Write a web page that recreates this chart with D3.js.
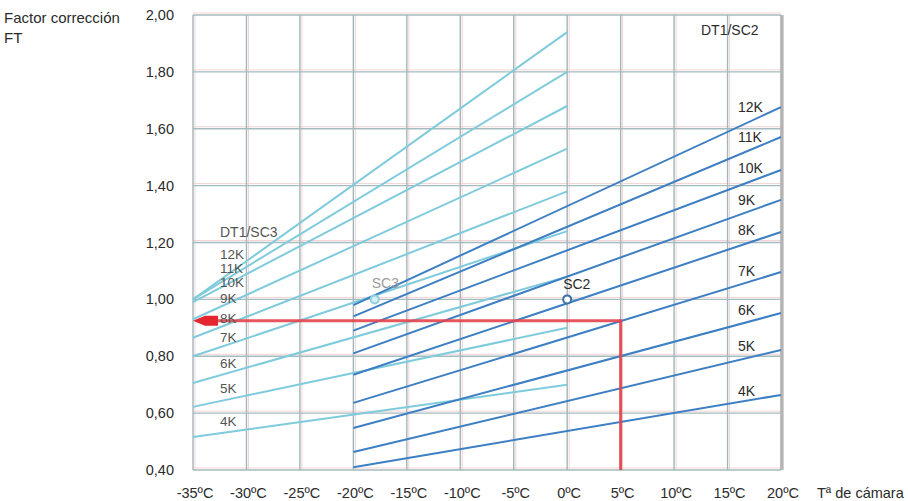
<!DOCTYPE html>
<html>
<head>
<meta charset="utf-8">
<script src="https://cdn.jsdelivr.net/npm/d3@7"></script>
<style>
  body { margin: 0; background: #fff; }
  svg text { font-family: "Liberation Sans", Arial, sans-serif; fill: #2b2b2b; }
</style>
</head>
<body>
<svg width="908" height="501"></svg>
<script>
// correction factor lines, one per DT1 value
var dtLabels = ["12K", "11K", "10K", "9K", "8K", "7K", "6K", "5K", "4K"];

// SC2 family: -20ºC .. 20ºC
var sc2Temps = [-20, 20];
var sc2Start = [0.98, 0.94, 0.89, 0.81, 0.735, 0.636, 0.548, 0.463, 0.41];
var sc2End = [1.676, 1.571, 1.455, 1.35, 1.237, 1.096, 0.952, 0.822, 0.664];

// SC3 family: -35ºC .. 0ºC
var sc3Temps = [-35, 0];
var sc3Start = [1.00, 1.00, 0.99, 0.93, 0.865, 0.80, 0.706, 0.622, 0.516];
var sc3End = [1.94, 1.80, 1.68, 1.53, 1.38, 1.24, 1.08, 0.90, 0.70];

// reference points and the worked example
var sc2Point = [0, 1.00];
var sc3Point = [-18, 1.00];
var exampleT = 5;
var exampleFT = 0.925;

var xTicks = [-35, -30, -25, -20, -15, -10, -5, 0, 5, 10, 15, 20];
var yTicks = [0.4, 0.6, 0.8, 1.0, 1.2, 1.4, 1.6, 1.8, 2.0];

var svg = d3.select("svg");

var x = d3.scaleLinear().domain([-35, 20]).range([193, 781]);
var y = d3.scaleLinear().domain([0.4, 2.0]).range([470, 15]);

// grid (with the faint pink misregistration of the print)
var grid = svg.append("g");
grid.selectAll(".ghostv").data(xTicks).enter().append("line")
    .attr("x1", function(d) { return x(d) + 2; }).attr("x2", function(d) { return x(d) + 2; })
    .attr("y1", y(2.0)).attr("y2", y(0.4))
    .attr("stroke", "#f3d3d3").attr("stroke-width", 1);
grid.selectAll(".ghosth").data(yTicks).enter().append("line")
    .attr("x1", x(-35)).attr("x2", x(20))
    .attr("y1", function(d) { return y(d) - 2; }).attr("y2", function(d) { return y(d) - 2; })
    .attr("stroke", "#f3d3d3").attr("stroke-width", 1);
grid.selectAll(".vline").data(xTicks).enter().append("line")
    .attr("x1", function(d) { return x(d); }).attr("x2", function(d) { return x(d); })
    .attr("y1", y(2.0)).attr("y2", y(0.4))
    .attr("stroke", "#9db7bc").attr("stroke-width", 1.4);
grid.selectAll(".hline").data(yTicks).enter().append("line")
    .attr("x1", x(-35)).attr("x2", x(20))
    .attr("y1", function(d) { return y(d); }).attr("y2", function(d) { return y(d); })
    .attr("stroke", "#a4bbbf").attr("stroke-width", 1.4);

// right edge shadow
svg.append("line")
    .attr("x1", x(20) + 1).attr("x2", x(20) + 1)
    .attr("y1", y(2.0)).attr("y2", y(0.4))
    .attr("stroke", "#b4b4b4").attr("stroke-width", 3);

// SC3 lines (light)
svg.append("g").selectAll("line").data(dtLabels).enter().append("line")
    .attr("x1", x(sc3Temps[0]))
    .attr("y1", function(d, i) { return y(sc3Start[i]); })
    .attr("x2", x(sc3Temps[1]))
    .attr("y2", function(d, i) { return y(sc3End[i]); })
    .attr("stroke", "#7fcbdc").attr("stroke-width", 2);

// SC2 lines (dark)
svg.append("g").selectAll("line").data(dtLabels).enter().append("line")
    .attr("x1", x(sc2Temps[0]))
    .attr("y1", function(d, i) { return y(sc2Start[i]); })
    .attr("x2", x(sc2Temps[1]))
    .attr("y2", function(d, i) { return y(sc2End[i]); })
    .attr("stroke", "#3d7fc2").attr("stroke-width", 2);

// worked example in red
svg.append("line")
    .attr("x1", x(-35) + 22).attr("x2", x(exampleT))
    .attr("y1", y(exampleFT)).attr("y2", y(exampleFT))
    .attr("stroke", "#e4434b").attr("stroke-width", 3).attr("stroke-opacity", 0.9);
svg.append("line")
    .attr("x1", x(exampleT)).attr("x2", x(exampleT))
    .attr("y1", y(exampleFT) - 1.5).attr("y2", y(0.4))
    .attr("stroke", "#e4434b").attr("stroke-width", 3).attr("stroke-opacity", 0.9);
var ay = y(exampleFT), ax = x(-35);
svg.append("path")
    .attr("d", "M" + ax + "," + ay + "L" + (ax + 12) + "," + (ay - 5) + "L" + (ax + 25) + "," + (ay - 5) +
        "L" + (ax + 25) + "," + (ay + 5) + "L" + (ax + 12) + "," + (ay + 5) + "Z")
    .attr("fill", "#e3262f");

// marker circles
svg.append("circle")
    .attr("cx", x(sc3Point[0])).attr("cy", y(sc3Point[1])).attr("r", 4)
    .attr("fill", "#d8eef3").attr("stroke", "#8fd0de").attr("stroke-width", 2);
svg.append("circle")
    .attr("cx", x(sc2Point[0])).attr("cy", y(sc2Point[1])).attr("r", 4)
    .attr("fill", "#fff").attr("stroke", "#3b6fa6").attr("stroke-width", 2);
svg.append("text").attr("x", x(sc3Point[0]) - 3).attr("y", y(sc3Point[1]) - 11)
    .style("font-size", "14px").style("fill", "#9a9a9a").text("SC3");
svg.append("text").attr("x", x(sc2Point[0]) - 4).attr("y", y(sc2Point[1]) - 10)
    .style("font-size", "14px").text("SC2");

// family labels
var sc2LabelY = [107, 137, 168, 200, 230, 271, 310, 346, 391];
var sc3LabelY = [254, 268, 282, 298, 318, 337, 363, 388, 421];
svg.append("text").attr("x", 701).attr("y", 35).style("font-size", "14px").text("DT1/SC2");
svg.append("g").selectAll("text").data(dtLabels).enter().append("text")
    .attr("x", 738).attr("y", function(d, i) { return sc2LabelY[i] + 5; })
    .style("font-size", "14px").text(function(d) { return d; });
svg.append("text").attr("x", 220).attr("y", 237).style("font-size", "14px")
    .style("fill", "#555").text("DT1/SC3");
svg.append("g").selectAll("text").data(dtLabels).enter().append("text")
    .attr("x", 220).attr("y", function(d, i) { return sc3LabelY[i] + 5; })
    .style("font-size", "13.5px").style("fill", "#555").text(function(d) { return d; });

// axes labels
svg.append("g").selectAll("text").data(yTicks).enter().append("text")
    .attr("x", 174).attr("y", function(d) { return y(d) + 5; })
    .attr("text-anchor", "end").style("font-size", "14.5px")
    .text(function(d) { return d3.format(".2f")(d).replace(".", ","); });
svg.append("g").selectAll("text").data(xTicks).enter().append("text")
    .attr("x", function(d) { return x(d) + 2; }).attr("y", 498)
    .attr("text-anchor", "middle").style("font-size", "14.5px")
    .text(function(d) { return d + "ºC"; });

svg.append("text").attr("x", 4).attr("y", 23).style("font-size", "15px").text("Factor corrección");
svg.append("text").attr("x", 4).attr("y", 43).style("font-size", "15px").text("FT");
svg.append("text").attr("x", 817).attr("y", 498).style("font-size", "14.5px").text("Tª de cámara");
</script>
</body>
</html>
